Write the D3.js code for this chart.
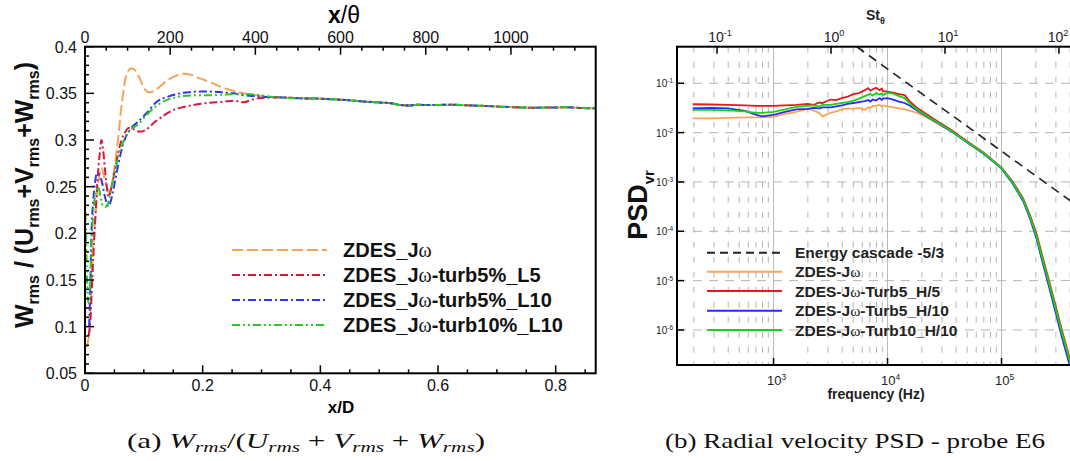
<!DOCTYPE html>
<html><head><meta charset="utf-8">
<script src="https://cdn.jsdelivr.net/npm/d3@7"></script>
<style>body{margin:0;background:#fff}</style>
</head><body>
<svg id="c" width="1070" height="461"></svg>
<script>
// ================= Panel (a) data =================
const legendA = ["ZDES_J", "ZDES_J", "ZDES_J", "ZDES_J"];
const legendASuffix = ["", "-turb5%_L5", "-turb5%_L10", "-turb10%_L10"];
const orangeX = [0.003,0.008,0.012,0.018,0.024,0.028,0.032,0.037,0.042,0.048,0.054,0.062,0.071,0.079,0.086,0.093,0.102,0.110,0.118,0.127,0.140,0.155,0.167,0.180,0.195,0.213,0.235,0.263,0.290,0.315];
const orangeY = [0.078,0.100,0.160,0.220,0.260,0.270,0.262,0.250,0.243,0.262,0.289,0.336,0.371,0.377,0.374,0.366,0.354,0.351,0.353,0.357,0.364,0.369,0.371,0.370,0.366,0.362,0.356,0.351,0.348,0.346];
const redX = [0.006,0.009,0.013,0.017,0.021,0.025,0.028,0.031,0.035,0.040,0.045,0.051,0.057,0.062,0.068,0.074,0.080,0.085,0.091,0.096,0.103,0.110,0.118,0.127,0.138,0.150,0.165,0.184,0.2125,0.235,0.252,0.270,0.285,0.300,0.315];
const redY = [0.090,0.105,0.160,0.210,0.255,0.285,0.300,0.288,0.262,0.239,0.250,0.268,0.288,0.300,0.308,0.313,0.312,0.311,0.309,0.309,0.311,0.314,0.319,0.323,0.328,0.332,0.335,0.3375,0.340,0.341,0.342,0.3405,0.3435,0.345,0.3455];
const blueX = [0.007,0.009,0.011,0.014,0.017,0.020,0.024,0.028,0.034,0.040,0.044,0.048,0.053,0.057,0.065,0.0765,0.091,0.105,0.122,0.139,0.1615,0.1955,0.2125,0.235,0.252,0.269,0.290,0.315];
const blueY = [0.100,0.140,0.200,0.235,0.254,0.264,0.263,0.257,0.239,0.229,0.235,0.246,0.262,0.275,0.296,0.311,0.320,0.329,0.341,0.346,0.350,0.352,0.352,0.351,0.350,0.348,0.347,0.346];
const greenX = [0.000,0.002,0.004,0.006,0.009,0.012,0.016,0.020,0.023,0.026,0.030,0.034,0.039,0.045,0.050,0.054,0.062,0.074,0.091,0.105,0.127,0.156,0.190,0.2125,0.252,0.280,0.315];
const greenY = [0.245,0.190,0.140,0.125,0.150,0.200,0.235,0.247,0.250,0.240,0.230,0.228,0.232,0.250,0.262,0.275,0.293,0.309,0.317,0.327,0.339,0.346,0.348,0.348,0.349,0.349,0.3465];
// all four curves coincide downstream
const tailX = [0.330,0.365,0.390,0.422,0.450,0.479,0.507,0.520,0.535,0.550,0.564,0.592,0.620,0.649,0.680,0.705,0.735,0.762,0.790,0.819,0.845,0.868];
const tailY = [0.3457,0.3447,0.3445,0.3436,0.3425,0.3410,0.3400,0.3395,0.3375,0.3370,0.3377,0.3375,0.3378,0.3372,0.3365,0.3357,0.3350,0.3346,0.3349,0.3350,0.3343,0.3340];
const xTicksA = [0, 0.2, 0.4, 0.6, 0.8];
const xMinorA = [0.05,0.1,0.15,0.25,0.3,0.35,0.45,0.5,0.55,0.65,0.7,0.75,0.85];
const yTicksA = [0.05, 0.1, 0.15, 0.2, 0.25, 0.3, 0.35, 0.4];
const topTicksA = [0, 200, 400, 600, 800, 1000];
const topMinorA = [50,100,150,250,300,350,450,500,550,650,700,750,850,900,950,1050,1100,1150];

// ================= Panel (b) data =================
const legendB = ["Energy cascade -5/3", "ZDES-J", "ZDES-J", "ZDES-J", "ZDES-J"];
const legendBSuffix = ["", "", "-Turb5_H/5", "-Turb5_H/10", "-Turb10_H/10"];
const psdFreq = [195,282,398,562,708,794,1000,1259,1585,1995,2239,2512,2692,3162,3548,3981,4467,5012,5623,6310,6761,7079,7413,7943,8511,8913,9120,10000,11220,12589,14125,15849,18197,22387,28184,35481,50119,70795,100000,125893,154882,177828,204174,223872,251189,295121,338844,389045,426580];
// PSD values as decimal exponents (PSD = 10^value)
const psdOrangeExp = [-1.71,-1.71,-1.70,-1.69,-1.69,-1.69,-1.68,-1.62,-1.58,-1.52,-1.55,-1.60,-1.67,-1.60,-1.57,-1.53,-1.51,-1.52,-1.50,-1.54,-1.49,-1.50,-1.46,-1.46,-1.44,-1.47,-1.45,-1.47,-1.49,-1.51,-1.53,-1.56,-1.60,-1.70,-1.83,-1.96,-2.20,-2.44,-2.72,-3.01,-3.34,-3.67,-4.07,-4.42,-4.85,-5.46,-6.00,-6.48,-6.84];
const psdRedExp = [-1.425,-1.43,-1.44,-1.45,-1.46,-1.46,-1.46,-1.45,-1.44,-1.42,-1.44,-1.39,-1.40,-1.33,-1.34,-1.30,-1.27,-1.22,-1.20,-1.14,-1.10,-1.15,-1.12,-1.09,-1.14,-1.11,-1.16,-1.17,-1.19,-1.22,-1.24,-1.38,-1.50,-1.64,-1.79,-1.93,-2.18,-2.42,-2.71,-3.00,-3.34,-3.68,-4.08,-4.44,-4.87,-5.48,-6.02,-6.52,-6.88];
const psdBlueExp = [-1.51,-1.50,-1.51,-1.56,-1.64,-1.67,-1.64,-1.58,-1.53,-1.52,-1.50,-1.51,-1.49,-1.49,-1.47,-1.45,-1.42,-1.40,-1.38,-1.36,-1.34,-1.37,-1.33,-1.35,-1.30,-1.34,-1.31,-1.30,-1.33,-1.37,-1.40,-1.46,-1.55,-1.68,-1.82,-1.96,-2.20,-2.44,-2.73,-3.04,-3.39,-3.74,-4.17,-4.54,-4.98,-5.60,-6.15,-6.65,-7.00];
const psdGreenExp = [-1.54,-1.54,-1.55,-1.57,-1.60,-1.60,-1.58,-1.53,-1.48,-1.46,-1.45,-1.47,-1.44,-1.44,-1.42,-1.40,-1.38,-1.35,-1.31,-1.26,-1.23,-1.22,-1.25,-1.20,-1.23,-1.21,-1.24,-1.19,-1.21,-1.26,-1.30,-1.42,-1.53,-1.67,-1.81,-1.95,-2.19,-2.43,-2.72,-3.02,-3.36,-3.70,-4.12,-4.48,-4.91,-5.52,-6.06,-6.55,-6.90];
const cascadeFreq = [5370, 1000000];
const cascadePSD = [0.55, 9.1e-5];
const freqTicks = [1e3, 1e4, 1e5];
const freqTickExp = ["3", "4", "5"];
const stTicks = [0.1, 1, 10, 100];
const stTickExp = ["-1", "0", "1", "2"];
const psdTicks = [1e-1, 1e-2, 1e-3, 1e-4, 1e-5, 1e-6];
const psdTickExp = ["-1", "-2", "-3", "-4", "-5", "-6"];

// ================= Drawing =================
const F = "'Liberation Sans', Arial, Helvetica, sans-serif";
const SERIF = "'Liberation Serif', 'Times New Roman', serif";
const svg = d3.select("#c");
svg.append("rect").attr("width",1070).attr("height",461).attr("fill","#fff");

const colA = {orange:"#f5a35a", red:"#d6183e", blue:"#3434ee", green:"#28c828"};
const dashA = {orange:"11,4", red:"8,3,2,3", blue:"8,3,2,3", green:"8,3,2,3,2,3"};

// ---- Panel (a) ----
const L = 85, R = 595.7, T = 46.7, B = 373.3;
const xA = d3.scaleLinear().domain([0, 0.868]).range([L, R]);
const xTopA = d3.scaleLinear().domain([0, 1199]).range([L, R]);
const yA = d3.scaleLinear().domain([0.05, 0.4]).range([B, T]);

svg.append("clipPath").attr("id","clipA").append("rect").attr("x",L).attr("y",T).attr("width",R-L).attr("height",B-T);
const gA = svg.append("g").attr("clip-path","url(#clipA)");
const lineA = d3.line().x(d=>xA(d[0])).y(d=>yA(d[1])).curve(d3.curveMonotoneX);
const zip = (xs, ys) => xs.map((x,i)=>[x, ys[i]]);
const seriesA = [
  {k:"orange", d: zip(orangeX.concat(tailX), orangeY.concat(tailY))},
  {k:"red", d: zip(redX.concat(tailX), redY.concat(tailY))},
  {k:"blue", d: zip(blueX.concat(tailX), blueY.concat(tailY))},
  {k:"green", d: zip(greenX.concat(tailX), greenY.concat(tailY))}
];
seriesA.forEach(s => {
  gA.append("path").attr("d", lineA(s.d)).attr("fill","none").attr("stroke", colA[s.k])
    .attr("stroke-width", 2).attr("stroke-dasharray", dashA[s.k]);
});

// axes panel a
const axA = svg.append("g").attr("stroke","#000").attr("stroke-width",1.5);
xTicksA.forEach(v => axA.append("line").attr("x1",xA(v)).attr("x2",xA(v)).attr("y1",B).attr("y2",B-8));
xMinorA.forEach(v => axA.append("line").attr("x1",xA(v)).attr("x2",xA(v)).attr("y1",B).attr("y2",B-4));
topTicksA.forEach(v => axA.append("line").attr("x1",xTopA(v)).attr("x2",xTopA(v)).attr("y1",T).attr("y2",T+8));
topMinorA.forEach(v => axA.append("line").attr("x1",xTopA(v)).attr("x2",xTopA(v)).attr("y1",T).attr("y2",T+4));
yTicksA.forEach(v => axA.append("line").attr("x1",L).attr("x2",L+9).attr("y1",yA(v)).attr("y2",yA(v)));
d3.range(6, 40).forEach(i => { if (i % 5 !== 0) { const v = i/100; axA.append("line").attr("x1",L).attr("x2",L+4).attr("y1",yA(v)).attr("y2",yA(v)); }});
svg.append("rect").attr("x",L).attr("y",T).attr("width",R-L).attr("height",B-T).attr("fill","none").attr("stroke","#000").attr("stroke-width",2);

const tA = svg.append("g").attr("font-family",F).attr("font-size",16).attr("fill","#111");
yTicksA.forEach(v => tA.append("text").attr("x",77).attr("y",yA(v)+6).attr("text-anchor","end").text(+v.toFixed(2)));
xTicksA.forEach(v => tA.append("text").attr("x",xA(v)).attr("y",391).attr("text-anchor","middle").text(v));
topTicksA.forEach(v => tA.append("text").attr("x",xTopA(v)).attr("y",43).attr("text-anchor","middle").text(v));

// axis titles
const xt = svg.append("text").attr("x",344).attr("y",23).attr("text-anchor","middle").attr("font-family",F).attr("font-size",23);
xt.append("tspan").attr("font-weight","bold").text("x");
xt.append("tspan").text("/θ");
svg.append("text").attr("x",341).attr("y",413).attr("text-anchor","middle").attr("font-family",F).attr("font-size",17).attr("font-weight","bold").text("x/D");

const yt = svg.append("text").attr("transform","translate(33,195) rotate(-90)").attr("text-anchor","middle")
  .attr("font-family",F).attr("font-weight","bold").attr("font-size",25).attr("fill","#111");
[["W",0],["rms",1],[" / (U",0],["rms",1],["+V",0],["rms",1],["+W",0],["rms",1],[")",0]].forEach(([t,s],i,arr)=>{
  const prevSub = i>0 && arr[i-1][1];
  const dy = s ? 6 : (prevSub ? -6 : 0);
  yt.append("tspan").attr("dy",dy).attr("font-size", s?16:25).text(t);
});

// legend a
const legYA = [250, 275, 300, 325];
const keysA = ["orange","red","blue","green"];
keysA.forEach((k,i) => {
  svg.append("line").attr("x1",232).attr("x2",327).attr("y1",legYA[i]).attr("y2",legYA[i])
    .attr("stroke",colA[k]).attr("stroke-width",2).attr("stroke-dasharray",dashA[k]);
  const t = svg.append("text").attr("x",343).attr("y",legYA[i]+7).attr("font-family",F).attr("font-size",20).attr("font-weight","bold").attr("fill","#111");
  t.append("tspan").text(legendA[i]);
  t.append("tspan").attr("font-weight","normal").attr("font-family",SERIF).text("ω");
  t.append("tspan").text(legendASuffix[i]);
});

// ---- Panel (b) ----
const L2 = 677, R2 = 1078, T2 = 46.7, B2 = 365;
const xB = d3.scaleLog().domain([142.2, 468800]).range([L2, R2]);
const xSt = d3.scaleLog().domain([142.2/3192, 468800/3192]).range([L2, R2]);
const yB = d3.scaleLog().domain([1.95e-7, 0.5508]).range([B2, T2]);

svg.append("clipPath").attr("id","clipB").append("rect").attr("x",L2).attr("y",T2).attr("width",R2-L2).attr("height",B2-T2);
const gB = svg.append("g").attr("clip-path","url(#clipB)");
// grid
for (let e = 2; e <= 5; e++) {
  for (let m = 2; m <= 9; m++) {
    const f = m * Math.pow(10, e);
    if (f > 142.2 && f < 468800)
      gB.append("line").attr("x1",xB(f)).attr("x2",xB(f)).attr("y1",T2).attr("y2",B2)
        .attr("stroke","#b4b4b4").attr("stroke-width",1).attr("stroke-dasharray","6,9");
  }
}
freqTicks.forEach(f => gB.append("line").attr("x1",xB(f)).attr("x2",xB(f)).attr("y1",T2).attr("y2",B2).attr("stroke","#b8b8b8").attr("stroke-width",1));
psdTicks.forEach(p => gB.append("line").attr("x1",L2).attr("x2",R2).attr("y1",yB(p)).attr("y2",yB(p))
  .attr("stroke","#b4b4b4").attr("stroke-width",1).attr("stroke-dasharray","9,7"));

const colB = {orange:"#f7a658", red:"#e41a1a", blue:"#2b2bff", green:"#18d418"};
const lineB = d3.line().x(d=>xB(d[0])).y(d=>yB(d[1]));
const seriesB = [
  {k:"orange", e: psdOrangeExp},
  {k:"red", e: psdRedExp},
  {k:"blue", e: psdBlueExp},
  {k:"green", e: psdGreenExp}
];
seriesB.forEach(s => {
  const d = psdFreq.map((f,i)=>[f, Math.pow(10, s.e[i])]);
  gB.append("path").attr("d", lineB(d)).attr("fill","none").attr("stroke", colB[s.k]).attr("stroke-width", 1.8);
});
gB.append("path").attr("d", lineB(zip(cascadeFreq, cascadePSD))).attr("fill","none").attr("stroke","#222")
  .attr("stroke-width",1.6).attr("stroke-dasharray","9,6");

// axes panel b
const axB = svg.append("g").attr("stroke","#000").attr("stroke-width",1.5);
freqTicks.forEach(f => axB.append("line").attr("x1",xB(f)).attr("x2",xB(f)).attr("y1",B2).attr("y2",B2-7));
stTicks.forEach(s => axB.append("line").attr("x1",xSt(s)).attr("x2",xSt(s)).attr("y1",T2).attr("y2",T2+7));
psdTicks.forEach(p => axB.append("line").attr("x1",L2).attr("x2",L2+7).attr("y1",yB(p)).attr("y2",yB(p)));
svg.append("rect").attr("x",L2).attr("y",T2).attr("width",R2-L2).attr("height",B2-T2).attr("fill","none").attr("stroke","#000").attr("stroke-width",2);

function pow10(g, x, y, exp, size, anchor) {
  const t = g.append("text").attr("x",x).attr("y",y).attr("text-anchor",anchor).attr("font-family",F).attr("font-size",size).attr("fill","#222");
  t.append("tspan").text("10");
  t.append("tspan").attr("dy",-size*0.4).attr("font-size",size*0.65).text(exp);
  return t;
}
freqTicks.forEach((f,i) => pow10(svg, xB(f)+3, 385, freqTickExp[i], 13, "middle"));
stTicks.forEach((s,i) => pow10(svg, Math.min(xSt(s)+3, 1058), 42, stTickExp[i], 14, "middle"));
psdTicks.forEach((p,i) => pow10(svg, 673, yB(p)+4, psdTickExp[i], 10, "end"));

const stT = svg.append("text").attr("x",866).attr("y",20).attr("font-family",F).attr("font-weight","bold").attr("font-size",14).attr("fill","#222");
stT.append("tspan").text("St");
stT.append("tspan").attr("dy",4).attr("font-size",9).text("θ");
svg.append("text").attr("x",876).attr("y",399).attr("text-anchor","middle").attr("font-family",F).attr("font-weight","bold").attr("font-size",14).attr("fill","#222").text("frequency (Hz)");
const pT = svg.append("text").attr("transform","translate(647,205) rotate(-90)").attr("text-anchor","middle")
  .attr("font-family",F).attr("font-weight","bold").attr("font-size",27).attr("fill","#111");
pT.append("tspan").text("PSD");
pT.append("tspan").attr("dy",7).attr("font-size",15).text("vr");

// legend b
const legYB = [252.7, 271.7, 291, 310.7, 330];
const keysB = [null, "orange","red","blue","green"];
keysB.forEach((k,i) => {
  svg.append("line").attr("x1",707).attr("x2",782).attr("y1",legYB[i]).attr("y2",legYB[i])
    .attr("stroke", k ? colB[k] : "#222").attr("stroke-width", 2).attr("stroke-dasharray", k ? null : "8,5");
  const t = svg.append("text").attr("x",795).attr("y",legYB[i]+5.5).attr("font-family",F).attr("font-size",15.5).attr("font-weight","bold").attr("fill","#222");
  t.append("tspan").text(legendB[i]);
  if (i > 0) {
    t.append("tspan").attr("font-weight","normal").attr("font-family",SERIF).text("ω");
    t.append("tspan").text(legendBSuffix[i]);
  }
});

// ---- captions ----
const capA = svg.append("text").attr("x",127).attr("y",448).attr("font-family",SERIF).attr("font-size",22).attr("fill","#111")
  .attr("textLength",358).attr("lengthAdjust","spacingAndGlyphs");
capA.append("tspan").text("(a)  ");
[["W",0],["rms",1],["/(",2],["U",0],["rms",1],[" + ",2],["V",0],["rms",1],[" + ",2],["W",0],["rms",1],[")",2]].forEach(([t,s],i,arr)=>{
  const prevSub = i>0 && arr[i-1][1]===1;
  const dy = s===1 ? 4 : (prevSub ? -4 : 0);
  capA.append("tspan").attr("dy",dy).attr("font-style", s===2 ? "normal" : "italic").attr("font-size", s===1?15:22).text(t);
});
svg.append("text").attr("x",665).attr("y",448).attr("font-family",SERIF).attr("font-size",22).attr("fill","#111")
  .attr("textLength",380).attr("lengthAdjust","spacingAndGlyphs")
  .text("(b)  Radial velocity PSD - probe E6");
</script>
</body></html>
